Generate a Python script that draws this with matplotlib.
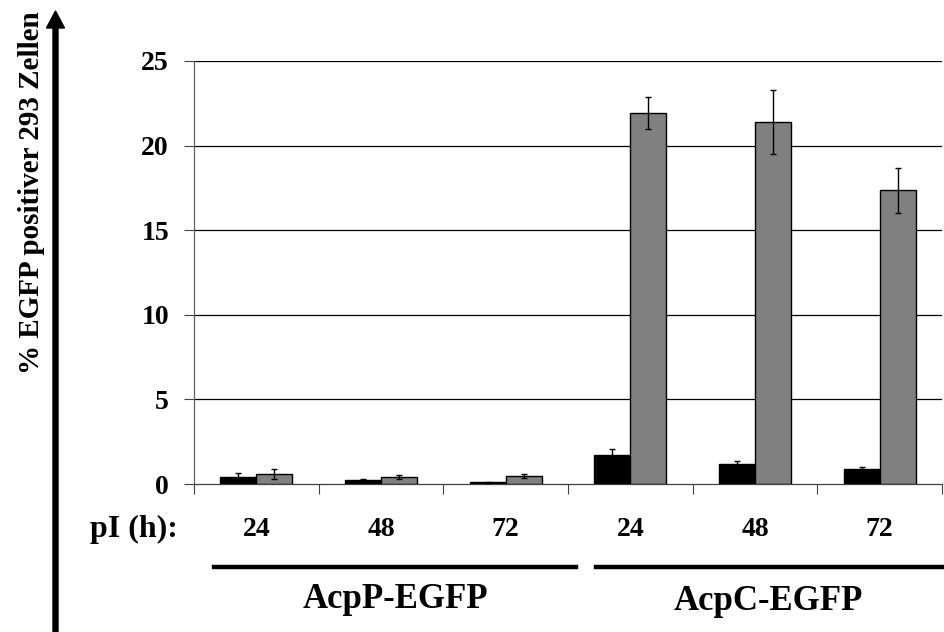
import matplotlib
matplotlib.use("Agg")
import matplotlib.pyplot as plt
import numpy as np
from matplotlib.patches import FancyArrow
from matplotlib.transforms import blended_transform_factory

plt.rcParams['font.family'] = ['Liberation Serif', 'DejaVu Serif']
plt.rcParams['font.weight'] = 'bold'

# Hours post infection for each construct
time_labels = ["24", "48", "72", "24", "48", "72"]
constructs = ["AcpP-EGFP", "AcpC-EGFP"]

# Percent EGFP-positive 293 cells (black and grey series) with errors
black_vals = [0.41, 0.24, 0.10, 1.71, 1.20, 0.87]
black_err = [0.24, 0.04, 0.03, 0.34, 0.18, 0.12]
grey_vals = [0.59, 0.41, 0.47, 21.94, 21.40, 17.36]
grey_err = [0.30, 0.10, 0.10, 0.95, 1.90, 1.33]

fig = plt.figure(figsize=(9.44, 6.32), dpi=100)
ax = fig.add_axes([194/944, 1 - 484/632, (942 - 194)/944, (484 - 61)/632])

n = len(time_labels)
centers = np.arange(n) + 0.5
w = 0.288

ax.bar(centers - w/2, black_vals, width=w, color='black', edgecolor='black',
       linewidth=1, zorder=3)
ax.bar(centers + w/2, grey_vals, width=w, color='#808080', edgecolor='black',
       linewidth=1, zorder=3)
ax.errorbar(centers - w/2, black_vals, yerr=black_err, fmt='none', ecolor='black',
            elinewidth=1, capsize=2.5, capthick=1, zorder=4)
ax.errorbar(centers + w/2, grey_vals, yerr=grey_err, fmt='none', ecolor='black',
            elinewidth=1, capsize=2.5, capthick=1, zorder=4)

ax.set_xlim(0, n)
ax.set_ylim(0, 25)
ax.set_yticks([0, 5, 10, 15, 20, 25])
ax.set_yticklabels(["0", "5", "10", "15", "20", "25"], fontsize=20, fontweight='bold')
ax.set_xticks(np.arange(n + 1))
ax.set_xticklabels([])
ax.tick_params(axis='y', direction='out', length=7, width=0.8, color='#404040', pad=11)
ax.tick_params(axis='x', direction='out', length=7, width=0.8, color='#404040')

for y in [5, 10, 15, 20, 25]:
    ax.axhline(y, color='black', linewidth=0.9, zorder=1)

for s in ['top', 'right']:
    ax.spines[s].set_visible(False)
ax.spines['left'].set_color('#606060')
ax.spines['left'].set_linewidth(0.9)
ax.spines['bottom'].set_color('#404040')
ax.spines['bottom'].set_linewidth(0.9)

# Time labels under each group
trans = blended_transform_factory(ax.transData, fig.transFigure)
for c, lab in zip(centers, time_labels):
    ax.text(c, 1 - 529/632, lab, transform=trans, ha='center', va='center',
            fontsize=20, fontweight='bold')
fig.text(178/944, 1 - 529/632, "pI (h):", ha='right', va='center',
         fontsize=23, fontweight='bold')

# Construct brackets and names
line_y = 1 - 567/632
fig.add_artist(plt.Line2D([214/944, 576/944], [line_y, line_y], color='black',
                          linewidth=3.2, transform=fig.transFigure))
fig.add_artist(plt.Line2D([596/944, 944/944], [line_y, line_y], color='black',
                          linewidth=3.2, transform=fig.transFigure))
fig.text(395/944, 1 - 600/632, constructs[0], ha='center', va='center',
         fontsize=25, fontweight='bold')
fig.text(768/944, 1 - 602/632, constructs[1], ha='center', va='center',
         fontsize=25, fontweight='bold')

# Y axis label with arrow
fig.text(32/944, 1 - 193/632, "% EGFP positiver 293 Zellen", rotation=90,
         ha='center', va='center', fontsize=21, fontweight='bold')
fig.add_artist(FancyArrow(55.5/944, 0.0, 0, 1 - 28/632, width=5/944,
                          head_width=18/944, head_length=17/632,
                          length_includes_head=False, color='black',
                          transform=fig.transFigure))

fig.savefig("out.png", dpi=100)
